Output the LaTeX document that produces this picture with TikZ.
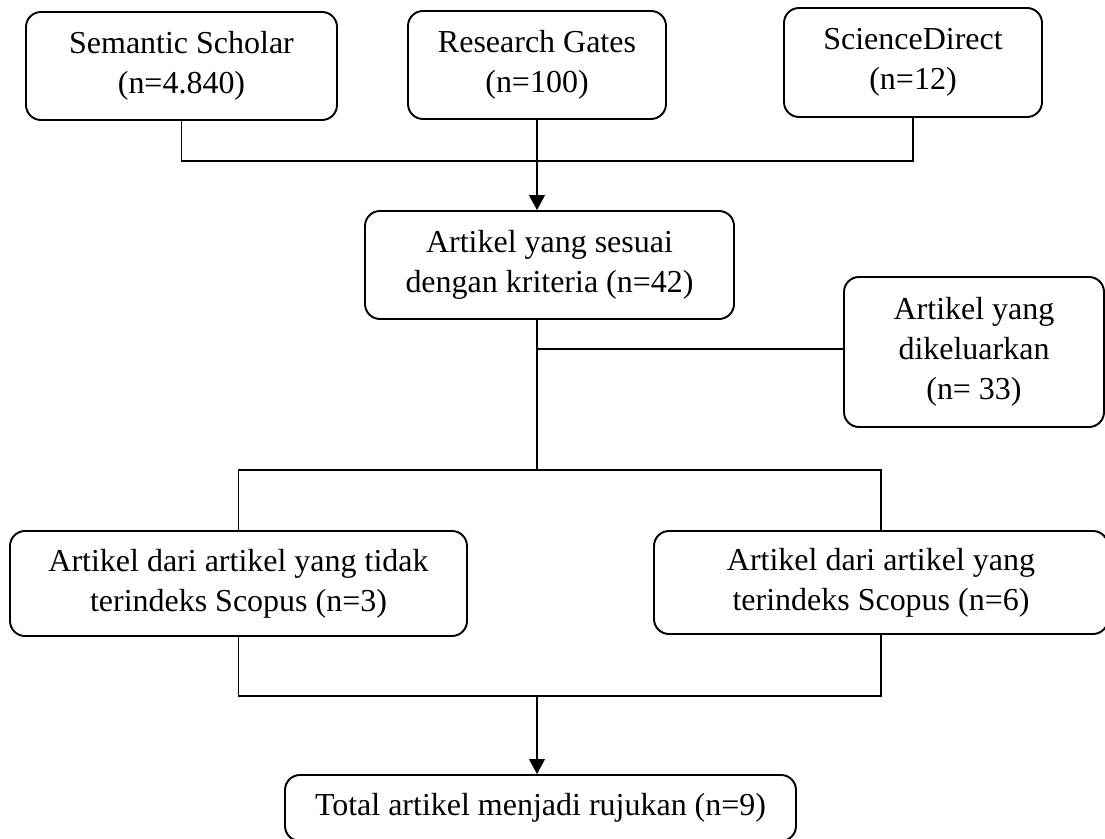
\documentclass[tikz,border=0pt]{standalone}
\usepackage{fontspec}
\setmainfont{Liberation Serif}
\usepackage{tikz}
\usetikzlibrary{%
  arrows.meta,%
  calc%
}
\tikzset{>={Triangle[length=0.3cm,width=0.32cm]}}
\tikzset{box/.style = {draw, rounded corners=0.3cm, line width=1.1pt,
    align=center, inner sep=0pt, font=\fontsize{18.2}{22.8}\selectfont},%
  link/.style = {line width=0.6pt}}

\begin{document}
\begin{tikzpicture}
    \useasboundingbox (0,0) rectangle (22.1,-16.78);
    \node[box, minimum width=6.22cm, minimum height=2.16cm] (sem) at (3.63,-1.32) {Semantic Scholar\\(n=4.840)};
    \node[box, minimum width=5.16cm, minimum height=2.16cm] (rg) at (10.74,-1.30) {Research Gates\\(n=100)};
    \node[box, minimum width=5.16cm, minimum height=2.18cm] (sd) at (18.26,-1.25) {ScienceDirect\\(n=12)};
    \node[box, minimum width=7.38cm, minimum height=2.16cm] (sesuai) at (10.99,-5.30) {Artikel yang sesuai\\dengan kriteria (n=42)};
    \node[box, minimum width=5.20cm, minimum height=3.00cm] (keluar) at (19.48,-7.04) {Artikel yang\\dikeluarkan\\(n= 33)};
    \node[box, minimum width=9.14cm, minimum height=2.10cm] (tidak) at (4.77,-11.67) {Artikel dari artikel yang tidak\\terindeks Scopus (n=3)};
    \node[box, minimum width=9.08cm, minimum height=2.06cm] (scopus) at (17.62,-11.65) {Artikel dari artikel yang\\terindeks Scopus (n=6)};
    \node[box, minimum width=10.22cm, minimum height=1.32cm] (total) at (10.81,-16.16) {Total artikel menjadi rujukan (n=9)};
    \coordinate (gabung) at (10.74,-3.22);
    \coordinate (keluarkan) at (10.74,-6.98);
    \coordinate (pisah) at (10.74,-9.40);
    \coordinate (satukan) at (10.74,-13.92);
    \draw[link] (sem.south) |- (gabung) -| (sd.south);
    \draw[link,->] (rg.south) -- (rg.south |- sesuai.north);
    \draw[link] (rg.south |- sesuai.south) -- (pisah);
    \draw[link] (keluarkan) -- (keluarkan -| keluar.west);
    \draw[link] (tidak.north) |- (pisah) -| (scopus.north);
    \draw[link] (tidak.south) |- (satukan) -| (scopus.south);
    \draw[link,->] (satukan) -- (satukan |- total.north);
  \end{tikzpicture}
\end{document}
